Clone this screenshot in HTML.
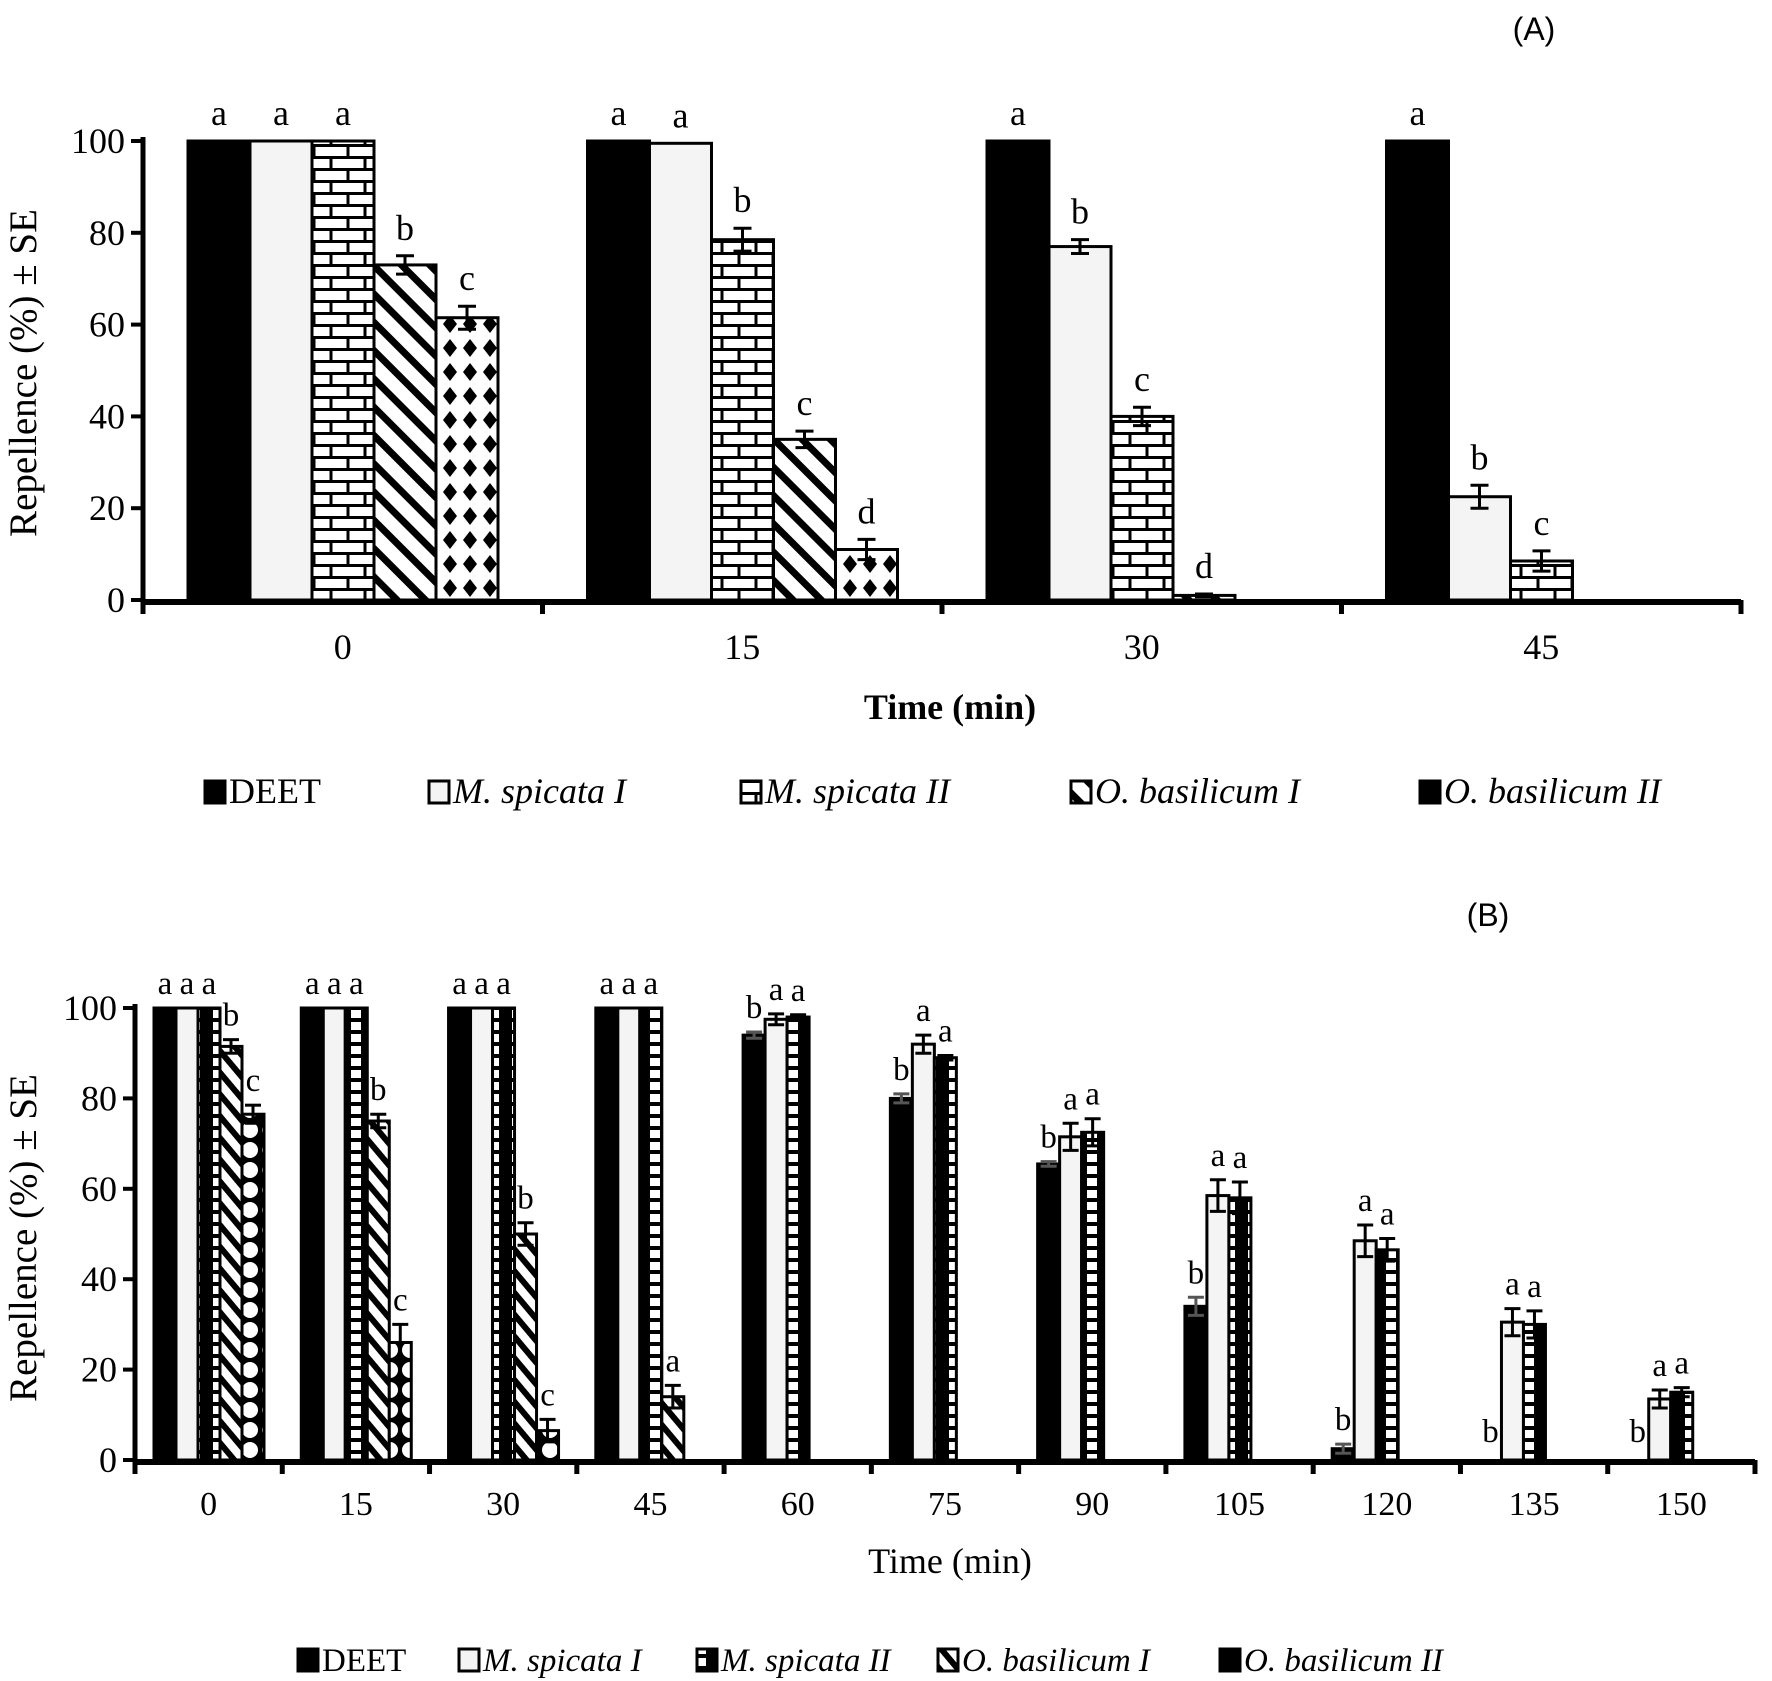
<!DOCTYPE html>
<html><head><meta charset="utf-8"><title>Repellence chart</title>
<style>
html,body{margin:0;padding:0;background:#fff;}
svg{display:block;}
text{font-family:"Liberation Serif",serif;fill:#000;}
</style></head>
<body>
<svg id="fig" width="1772" height="1681" viewBox="0 0 1772 1681" xmlns="http://www.w3.org/2000/svg">
<defs>
  <pattern id="brick" patternUnits="userSpaceOnUse" width="34" height="24">
    <rect width="34" height="24" fill="#fff"/>
    <line x1="0" y1="1.5" x2="34" y2="1.5" stroke="#000" stroke-width="3"/>
    <line x1="0" y1="13.5" x2="34" y2="13.5" stroke="#000" stroke-width="3"/>
    <line x1="8" y1="0" x2="8" y2="12" stroke="#000" stroke-width="3"/>
    <line x1="25" y1="12" x2="25" y2="24" stroke="#000" stroke-width="3"/>
  </pattern>
  <pattern id="stripeA" patternUnits="userSpaceOnUse" width="20" height="20" patternTransform="rotate(45)">
    <rect width="20" height="20" fill="#fff"/>
    <rect x="0" y="0" width="20" height="7" fill="#000"/>
  </pattern>
  <pattern id="diamond" patternUnits="userSpaceOnUse" width="20" height="24">
    <rect width="20" height="24" fill="#fff"/>
    <polygon points="10,3 17,12 10,21 3,12" fill="#000"/>
  </pattern>
  <pattern id="ladder" patternUnits="userSpaceOnUse" width="23" height="12">
    <rect width="23" height="12" fill="#000"/>
    <rect x="6" y="2" width="10" height="8" fill="#fff"/>
  </pattern>
  <pattern id="stripeB" patternUnits="userSpaceOnUse" width="14" height="14" patternTransform="rotate(50)">
    <rect width="14" height="14" fill="#fff"/>
    <rect x="0" y="0" width="14" height="6" fill="#000"/>
  </pattern>
  <pattern id="circles" patternUnits="userSpaceOnUse" width="20" height="20">
    <rect width="20" height="20" fill="#000"/>
    <circle cx="10" cy="10" r="8" fill="#fff"/>
  </pattern>
</defs>
<g id="chartA"></g>
<g id="chartB"></g>
</svg>
<script>
// ---------- Chart A data ----------
const catsA = ["0", "15", "30", "45"];
const seriesNames = ["DEET", "M. spicata I", "M. spicata II", "O. basilicum I", "O. basilicum II"];
const aDEET = [100, 100, 100, 100];
const aMS1 = [100, 99.5, 77, 22.5];
const aMS2 = [100, 78.5, 40, 8.5];
const aOB1 = [73, 35, 1, 0];
const aOB2 = [61.5, 11, 0, 0];
const aErrDEET = [0, 0, 0, 0];
const aErrMS1 = [0, 0, 1.5, 2.5];
const aErrMS2 = [0, 2.5, 2, 2.2];
const aErrOB1 = [2, 1.8, 0.3, 0];
const aErrOB2 = [2.5, 2.2, 0, 0];
const aLetters = [["a","a","a","b","c"],["a","a","b","c","d"],["a","b","c","d",""],["a","b","c","",""]];
const yTicksA = [0, 20, 40, 60, 80, 100];

// ---------- Chart B data ----------
const catsB = ["0","15","30","45","60","75","90","105","120","135","150"];
const bDEET = [100, 100, 100, 100, 94, 80, 65.5, 34, 2.5, 0, 0];
const bMS1 = [100, 100, 100, 100, 97.5, 92, 71.5, 58.5, 48.5, 30.5, 13.5];
const bMS2 = [100, 100, 100, 100, 98, 89, 72.5, 58, 46.5, 30, 15];
const bOB1 = [91.5, 75, 50, 14, 0, 0, 0, 0, 0, 0, 0];
const bOB2 = [76.5, 26, 6.5, 0, 0, 0, 0, 0, 0, 0, 0];
const bErrDEET = [0, 0, 0, 0, 0.7, 1, 0.5, 2, 1, 0, 0];
const bErrMS1 = [0, 0, 0, 0, 1.2, 2, 3, 3.5, 3.5, 3, 2];
const bErrMS2 = [0, 0, 0, 0, 0.5, 0.5, 3, 3.5, 2.5, 3, 1];
const bErrOB1 = [1.5, 1.5, 2.5, 2.5, 0, 0, 0, 0, 0, 0, 0];
const bErrOB2 = [2, 4, 2.5, 0, 0, 0, 0, 0, 0, 0, 0];
const bLetters = [["a","a","a","b","c"],["a","a","a","b","c"],["a","a","a","b","c"],["a","a","a","a",""],
  ["b","a","a","",""],["b","a","a","",""],["b","a","a","",""],["b","a","a","",""],["b","a","a","",""],["b","a","a","",""],["b","a","a","",""]];
const yTicksB = [0, 20, 40, 60, 80, 100];

const NS = "http://www.w3.org/2000/svg";
function mk(tag, attrs, parent) {
  const e = document.createElementNS(NS, tag);
  for (const k in attrs) e.setAttribute(k, attrs[k]);
  parent.appendChild(e);
  return e;
}

function drawChart(g, cfg) {
  const yScale = v => cfg.y0 - (v / 100) * (cfg.y0 - cfg.y100);
  const catW = (cfg.xEnd - cfg.x0) / cfg.cats.length;
  const xBar = (ci, si) => cfg.x0 + ci * catW + cfg.pad + si * cfg.barW;
  const series = cfg.series;
  for (let ci = 0; ci < cfg.cats.length; ci++) {
    for (let si = 0; si < series.length; si++) {
      const v = series[si][ci];
      if (v <= 0) continue;
      const x = xBar(ci, si), y = yScale(v);
      const r = mk("rect", {x: x, y: y, width: cfg.barW, height: cfg.y0 - y,
        fill: cfg.fills[si], stroke: cfg.strokes[si], "stroke-width": cfg.sw}, g);
      
      
      const e = cfg.errs[si][ci];
      let top = y;
      if (e > 0) {
        const cx = x + cfg.barW / 2, yt = yScale(v + e), yb = yScale(v - e);
        const col = cfg.errColor[si];
        const eg = mk("g", {stroke: col, "stroke-width": 3}, g);
        
        
        mk("line", {x1: cx, y1: yt, x2: cx, y2: yb}, eg);
        mk("line", {x1: cx - cfg.cap, y1: yt, x2: cx + cfg.cap, y2: yt}, eg);
        mk("line", {x1: cx - cfg.cap, y1: yb, x2: cx + cfg.cap, y2: yb}, eg);
        top = yt;
      }
      const L = cfg.letters[ci][si];
      if (L) {
        const t = mk("text", {x: x + cfg.barW / 2, y: top - cfg.letterGap, "text-anchor": "middle", "font-size": cfg.letterSize}, g);
        t.textContent = L;
        
        
      }
    }
    for (let si = 0; si < series.length; si++) {
      if (series[si][ci] > 0) continue;
      const L = cfg.letters[ci][si];
      if (!L) continue;
      const x = xBar(ci, si);
      const t = mk("text", {x: x + cfg.barW / 2, y: cfg.y0 - cfg.letterGap - 4, "text-anchor": "middle", "font-size": cfg.letterSize}, g);
      t.textContent = L;
      
      
    }
  }
  const ax = mk("g", {stroke: "#000"}, g);
  
  
  mk("line", {x1: cfg.x0, y1: cfg.y100 - 4, x2: cfg.x0, y2: cfg.y0 + 14, "stroke-width": 5}, ax);
  mk("line", {x1: cfg.x0, y1: cfg.y0 + 2, x2: cfg.xEnd, y2: cfg.y0 + 2, "stroke-width": 6}, ax);
  for (let i = 0; i <= cfg.cats.length; i++) {
    const x = cfg.x0 + i * catW;
    mk("line", {x1: x, y1: cfg.y0, x2: x, y2: cfg.y0 + 14, "stroke-width": 5}, ax);
  }
  cfg.yTicks.forEach(v => {
    const y = yScale(v);
    mk("line", {x1: cfg.x0 - 12, y1: y, x2: cfg.x0, y2: y, "stroke-width": 4}, ax);
    const t = mk("text", {x: cfg.x0 - 18, y: y + 12, "text-anchor": "end", "font-size": 36}, g);
    t.textContent = v;
    
    
  });
  cfg.cats.forEach((c, i) => {
    const t = mk("text", {x: cfg.x0 + (i + 0.5) * catW, y: cfg.xLabelY, "text-anchor": "middle", "font-size": cfg.xLabelSize}, g);
    t.textContent = c;
    
    
  });
  const yt = mk("text", {x: 0, y: 0, "text-anchor": "middle", "font-size": 39,
    transform: "translate(" + (cfg.yTitleX) + "," + cfg.yTitleY + ") rotate(-90)"}, g);
  yt.textContent = "Repellence (%) ± SE";
  
  
  const xt = mk("text", {x: 950, y: cfg.xTitleY, "text-anchor": "middle", "font-size": 36, "font-weight": cfg.xTitleBold ? "bold" : "normal"}, g);
  xt.textContent = "Time (min)";
  
  
  const pt = mk("text", {x: cfg.panelX, y: cfg.panelY, "text-anchor": "middle", "font-size": 32, style: "font-family:'Liberation Sans',sans-serif"}, g);
  pt.textContent = cfg.panel;
  
  
  cfg.legendX.forEach((lx, i) => {
    const lg = mk("g", {}, g);
    
    
    mk("rect", {x: lx, y: cfg.legendY - 22, width: 20, height: 22, fill: cfg.legendFills[i], stroke: "#000", "stroke-width": 3}, lg);
    const t = mk("text", {x: lx + 24, y: cfg.legendY, "font-size": cfg.legendSize, "font-style": i === 0 ? "normal" : "italic"}, lg);
    t.textContent = seriesNames[i];
  });
}

drawChart(document.getElementById("chartA"), {
  cats: catsA, series: [aDEET, aMS1, aMS2, aOB1, aOB2], errs: [aErrDEET, aErrMS1, aErrMS2, aErrOB1, aErrOB2],
  letters: aLetters, yTicks: yTicksA,
  x0: 143, xEnd: 1741, y0: 600, y100: 141, pad: 45, barW: 62, sw: 3, cap: 9,
  fills: ["#000", "#f4f4f4", "url(#brick)", "url(#stripeA)", "url(#diamond)"],
  strokes: ["#000", "#000", "#000", "#000", "#000"],
  errColor: ["#000", "#000", "#000", "#000", "#000"],
  letterGap: 16, letterSize: 36, xLabelY: 659, xLabelSize: 36,
  yTitleX: 36, yTitleY: 373, xTitleY: 719, xTitleBold: true,
  panel: "(A)", panelX: 1534, panelY: 40,
  legendX: [205, 429, 741, 1071, 1420], legendY: 803, legendSize: 36,
  legendFills: ["#000", "#f4f4f4", "url(#brick)", "url(#stripeA)", "#000"]
});

drawChart(document.getElementById("chartB"), {
  cats: catsB, series: [bDEET, bMS1, bMS2, bOB1, bOB2], errs: [bErrDEET, bErrMS1, bErrMS2, bErrOB1, bErrOB2],
  letters: bLetters, yTicks: yTicksB,
  x0: 135, xEnd: 1755, y0: 1460, y100: 1008, pad: 19, barW: 22, sw: 3, cap: 8,
  fills: ["#000", "#f4f4f4", "url(#ladder)", "url(#stripeB)", "url(#circles)"],
  strokes: ["#000", "#000", "#000", "#000", "#000"],
  errColor: ["#555", "#000", "#000", "#000", "#000"],
  letterGap: 14, letterSize: 33, xLabelY: 1515, xLabelSize: 34,
  yTitleX: 36, yTitleY: 1238, xTitleY: 1573, xTitleBold: false,
  panel: "(B)", panelX: 1488, panelY: 926,
  legendX: [298, 459, 697, 938, 1220], legendY: 1671, legendSize: 33,
  legendFills: ["#000", "#f4f4f4", "url(#ladder)", "url(#stripeB)", "#000"]
});
</script>
</body></html>
